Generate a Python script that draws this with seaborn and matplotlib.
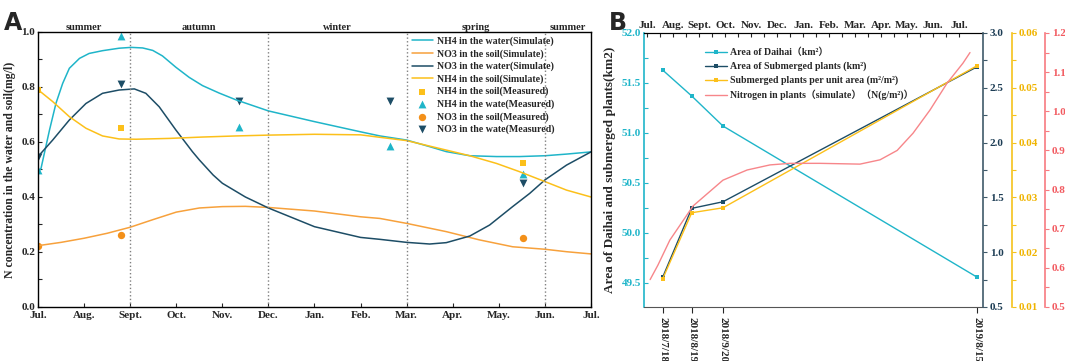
import numpy as np
import pandas as pd
import seaborn as sns
import matplotlib.pyplot as plt
from matplotlib.ticker import MultipleLocator, FixedLocator

sns.set_style('ticks')
plt.rcParams['font.family'] = ['Liberation Serif', 'Noto Sans CJK SC']
plt.rcParams['font.weight'] = 'bold'
plt.rcParams['font.size'] = 8

# ---- panel A data (x in months from July) ----
months = ['Jul.', 'Aug.', 'Sept.', 'Oct.', 'Nov.', 'Dec.', 'Jan.', 'Feb.', 'Mar.', 'Apr.', 'May.', 'Jun.', 'Jul.']
seasons = ['summer', 'autumn', 'winter', 'spring', 'summer']
season_mid = [1, 3.5, 6.5, 9.5, 11.5]
season_edges = [2, 5, 8, 11]

nh4_water_x = [0, 0.065, 0.25, 0.39, 0.535, 0.68, 0.9, 1.11, 1.4, 1.76, 2.02, 2.27, 2.49, 2.7, 2.99, 3.28, 3.57,
               3.93, 4.3, 5, 6, 7, 7.42, 8, 8.5, 8.86, 9.37, 9.95, 10.45, 11, 11.47, 12]
nh4_water_sim = [0.49, 0.504, 0.644, 0.741, 0.813, 0.868, 0.904, 0.922, 0.932, 0.941, 0.944, 0.942, 0.933, 0.913,
                 0.872, 0.835, 0.805, 0.778, 0.753, 0.713, 0.674, 0.637, 0.622, 0.607, 0.583, 0.565, 0.55, 0.547,
                 0.547, 0.55, 0.556, 0.564]
no3_water_x = [0, 0.318, 0.68, 1.04, 1.4, 1.76, 2.09, 2.34, 2.63, 2.99, 3.35, 3.5, 3.8, 4.0, 4.5, 5, 6, 7, 7.42, 8,
               8.5, 8.86, 9.37, 9.8, 10.3, 10.67, 11, 11.47, 12]
no3_water_sim = [0.547, 0.607, 0.68, 0.74, 0.777, 0.789, 0.793, 0.777, 0.728, 0.644, 0.565, 0.535, 0.48, 0.45,
                 0.40, 0.36, 0.292, 0.253, 0.246, 0.235, 0.229, 0.234, 0.258, 0.298, 0.365, 0.413, 0.462, 0.516,
                 0.564]
nh4_soil_x = [0, 0.318, 0.68, 1.04, 1.4, 1.76, 2.13, 2.85, 3.57, 4.3, 5, 6, 7, 7.42, 8, 8.5, 9.37, 9.95, 10.45,
              11, 11.47, 12]
nh4_soil_sim = [0.79, 0.747, 0.692, 0.65, 0.622, 0.611, 0.61, 0.613, 0.618, 0.622, 0.625, 0.628, 0.626, 0.617,
                0.605, 0.585, 0.55, 0.522, 0.492, 0.456, 0.425, 0.40]
no3_soil_x = [0, 0.5, 1, 1.5, 2, 2.5, 3, 3.5, 4, 4.5, 5, 6, 7, 7.42, 8, 8.86, 9.58, 10.3, 11, 11.47, 12]
no3_soil_sim = [0.223, 0.235, 0.25, 0.268, 0.29, 0.318, 0.345, 0.36, 0.365, 0.366, 0.362, 0.349, 0.328, 0.322,
                0.304, 0.274, 0.244, 0.219, 0.21, 0.201, 0.193]

nh4_soil_mx = [0, 1.8, 10.52]
nh4_soil_meas = [0.79, 0.652, 0.522]
nh4_water_mx = [0, 1.8, 4.36, 7.64, 10.52]
nh4_water_meas = [0.498, 0.985, 0.655, 0.585, 0.484]
no3_soil_mx = [0, 1.8, 10.52]
no3_soil_meas = [0.223, 0.262, 0.252]
no3_water_mx = [0, 1.8, 4.36, 7.64, 10.52]
no3_water_meas = [0.547, 0.81, 0.75, 0.75, 0.45]

# ---- panel B data ----
date_labels = ['2018/7/18', '2018/8/19', '2018/9/20', '2019/8/15']
date_pos = [0.6, 1.72, 2.92, 12.68]
area_daihai = [51.63, 51.37, 51.07, 49.56]
area_submerged = [0.77, 1.40, 1.46, 2.69]
per_unit_area = [0.0151, 0.0272, 0.0281, 0.0540]
n_plants_x = [0.12, 0.42, 0.88, 1.77, 2.92, 3.85, 4.73, 5.5, 6.65, 8.19, 8.96, 9.62, 10.23, 10.88, 11.54, 12.15, 12.42]
n_plants = [0.57, 0.607, 0.671, 0.758, 0.824, 0.85, 0.863, 0.867, 0.867, 0.865, 0.876, 0.90, 0.944, 1.003,
            1.072, 1.123, 1.15]

c_cyan = '#1fb5c9'
c_orange = '#f7a13c'
c_dark = '#1d4d66'
c_yellow = '#fcc01a'
c_red = '#f7868a'

fig = plt.figure(figsize=(10.65, 3.61), dpi=100)
axA = fig.add_axes([0.0357, 0.1496, 0.5192, 0.7618])

sns.lineplot(x=nh4_water_x, y=nh4_water_sim, ax=axA, color=c_cyan, lw=1.1, label='NH4 in the water(Simulate)')
sns.lineplot(x=no3_soil_x, y=no3_soil_sim, ax=axA, color=c_orange, lw=1.1, label='NO3 in the soil(Simulate)')
sns.lineplot(x=no3_water_x, y=no3_water_sim, ax=axA, color=c_dark, lw=1.1, label='NO3 in the water(Simulate)')
sns.lineplot(x=nh4_soil_x, y=nh4_soil_sim, ax=axA, color=c_yellow, lw=1.1, label='NH4 in the soil(Simulate)')
sns.scatterplot(x=nh4_soil_mx, y=nh4_soil_meas, ax=axA, color=c_yellow, marker='s', s=24, linewidth=0,
                label='NH4 in the soil(Measured)')
sns.scatterplot(x=nh4_water_mx, y=nh4_water_meas, ax=axA, color=c_cyan, marker='^', s=32, linewidth=0,
                label='NH4 in the wate(Measured)')
sns.scatterplot(x=no3_soil_mx, y=no3_soil_meas, ax=axA, color='#f39019', marker='o', s=28, linewidth=0,
                label='NO3 in the soil(Measured)')
sns.scatterplot(x=no3_water_mx, y=no3_water_meas, ax=axA, color=c_dark, marker='v', s=32, linewidth=0,
                label='NO3 in the wate(Measured)')

for e in season_edges:
    axA.axvline(e, color='gray', ls=':', lw=1.0)
for s, m in zip(seasons, season_mid):
    axA.text(m, 1.0, s, ha='center', va='bottom', fontsize=7.5, fontweight='bold')

axA.set_xlim(0, 12)
axA.set_ylim(0, 1.0)
axA.set_xticks(range(13))
axA.set_xticklabels(months)
axA.yaxis.set_major_locator(MultipleLocator(0.2))
axA.yaxis.set_minor_locator(MultipleLocator(0.1))
axA.tick_params(axis='both', which='both', direction='in', length=3, width=0.8, pad=2, labelsize=8)
axA.tick_params(axis='x', pad=3)
for sp in axA.spines.values():
    sp.set_linewidth(1.0)
    sp.set_color('black')
axA.set_xlabel('')
axA.set_ylabel('N concentration in the water and soil(mg/l)', fontsize=8.5, fontweight='bold', labelpad=4)
axA.legend(loc='upper left', bbox_to_anchor=(0.662, 1.012), frameon=False, fontsize=7.1,
           handlelength=2.1, handletextpad=0.4, labelspacing=0.3, borderpad=0.3)

# ---- panel B ----
axB = fig.add_axes([0.6047, 0.1496, 0.3183, 0.759])
ax2 = axB.twinx()
ax3 = axB.twinx()
ax4 = axB.twinx()

sns.lineplot(x=date_pos, y=area_daihai, ax=axB, color=c_cyan, marker='s', markersize=3, markeredgewidth=0,
             lw=1.0, label='Area of Daihai（km²）')
sns.lineplot(x=date_pos, y=area_submerged, ax=ax2, color=c_dark, marker='s', markersize=3, markeredgewidth=0,
             lw=1.0, label='Area of Submerged plants (km²)')
sns.lineplot(x=date_pos, y=per_unit_area, ax=ax3, color=c_yellow, marker='s', markersize=3, markeredgewidth=0,
             lw=1.0, label='Submerged plants per unit area (m²/m²)')
sns.lineplot(x=n_plants_x, y=n_plants, ax=ax4, color=c_red, lw=1.0, label='Nitrogen in plants（simulate）（N(g/m²)）')

handles, labels = [], []
for a in (axB, ax2, ax3, ax4):
    h, l = a.get_legend_handles_labels()
    handles += h
    labels += l
    if a.get_legend() is not None:
        a.get_legend().remove()

axB.set_xlim(-0.115, 12.92)
axB.set_ylim(49.26, 52.0)
ax2.set_ylim(0.5, 3.0)
ax3.set_ylim(0.01, 0.06)
ax4.set_ylim(0.5, 1.2)

axB.set_xticks(date_pos)
axB.set_xticklabels(date_labels, rotation=-90, fontsize=8)
axB.tick_params(axis='x', direction='out', length=4, width=0.8, pad=3)

top = axB.secondary_xaxis('top')
top.set_xticks(range(13))
top.set_xticklabels(months, fontsize=8)
top.xaxis.set_minor_locator(FixedLocator([i + 0.5 for i in range(12)]))
top.tick_params(axis='x', which='both', direction='in', length=3, width=0.8, pad=2)

axB.yaxis.set_major_locator(MultipleLocator(0.5))
axB.yaxis.set_minor_locator(MultipleLocator(0.25))
axB.tick_params(axis='y', which='both', direction='in', length=3, width=0.8, colors=c_cyan, labelsize=8, pad=2)
axB.spines['left'].set_color(c_cyan)
axB.spines['left'].set_linewidth(1.2)
axB.spines['right'].set_visible(False)
axB.spines['bottom'].set_color('#555555')
axB.spines['top'].set_color('black')
axB.set_ylabel('Area of Daihai and submerged plants(km2)', fontsize=9.5, fontweight='bold', labelpad=4)

# right axes: offsets are in points (29 px and 62 px at 100 dpi)
specs = [(ax2, '#3f5a6a', '#1d3d55', 0, 0.5, 0.25),
         (ax3, '#f5c21b', '#f0b400', 20.9, 0.01, 0.005),
         (ax4, '#f77a80', '#f25a60', 44.6, 0.1, 0.05)]
for a, spc, lc, off, maj, mnr in specs:
    for side in ('left', 'top', 'bottom'):
        a.spines[side].set_visible(False)
    a.spines['right'].set_position(('outward', off))
    a.spines['right'].set_color(spc)
    a.spines['right'].set_linewidth(1.2)
    a.yaxis.set_major_locator(MultipleLocator(maj))
    a.yaxis.set_minor_locator(MultipleLocator(mnr))
    a.tick_params(axis='y', which='both', direction='out', length=3, width=0.8, color=spc,
                  labelcolor=lc, labelsize=8, pad=2)
    a.set_ylabel('')

ax4.legend(handles, labels, loc='upper left', bbox_to_anchor=(0.158, 0.975), frameon=False, fontsize=7.1,
           handlelength=2.2, handletextpad=0.3, labelspacing=0.45, borderpad=0.3)

fig.text(0.004, 0.97, 'A', fontsize=17, fontweight='bold', family='DejaVu Sans', va='top')
fig.text(0.572, 0.97, 'B', fontsize=17, fontweight='bold', family='DejaVu Sans', va='top')

fig.savefig('out.png', dpi=100)
